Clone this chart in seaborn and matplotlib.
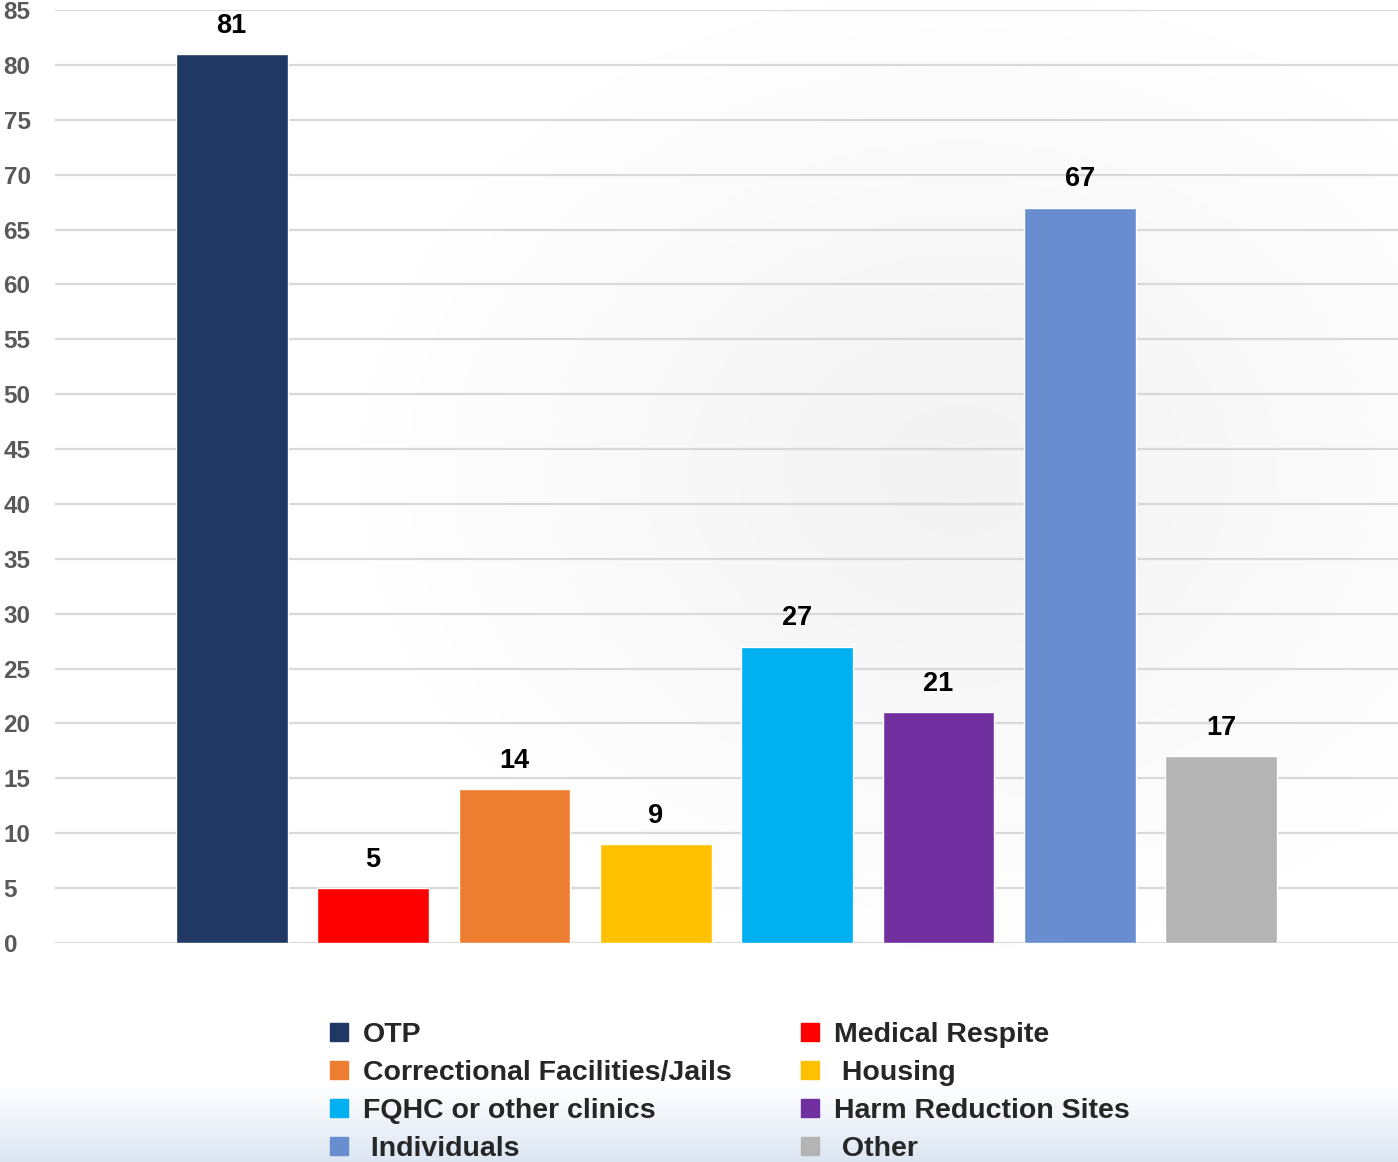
import numpy as np
import pandas as pd
import matplotlib
matplotlib.use("Agg")
import matplotlib.pyplot as plt
import matplotlib.patches as mpatches
import seaborn as sns

categories = ["OTP", "Medical Respite", "Correctional Facilities/Jails", "Housing",
              "FQHC or other clinics", "Harm Reduction Sites", "Individuals", "Other"]
values = [81, 5, 14, 9, 27, 21, 67, 17]
legend_labels = ["OTP", "Medical Respite", "Correctional Facilities/Jails", " Housing",
                 "FQHC or other clinics", "Harm Reduction Sites", " Individuals", " Other"]
colors = ["#203864", "#FF0000", "#ED7D31", "#FFC000", "#00B0F0", "#7030A0", "#698ED0", "#B4B4B4"]
yticks = list(range(0, 90, 5))

sns.set_theme(style="white")
plt.rcParams['font.family'] = ['Liberation Sans', 'DejaVu Sans']
plt.rcParams['font.weight'] = 'bold'

W, H = 1398, 1162
fig = plt.figure(figsize=(W / 100, H / 100), dpi=100)

# background gradients
bg = fig.add_axes([0, 0, 1, 1], zorder=-10)
yy, xx = np.mgrid[0:H, 0:W]
r = np.sqrt(((xx - 960) / 600.0) ** 2 + ((yy - 470) / 480.0) ** 2)
gray = 1 - 0.05 * np.clip(1 - r, 0, 1)
img = np.dstack([gray, gray, gray])
t = np.clip((yy - 1085) / 77.0, 0, 1)
blue = np.array([0.86, 0.90, 0.95])
img = img * (1 - t[..., None]) + blue * t[..., None]
bg.imshow(img, aspect='auto', extent=[0, 1, 0, 1])
bg.axis('off')

ax = fig.add_axes([55 / W, (H - 943) / H, 1 - 55 / W, (943 - 10) / H])
ax.patch.set_alpha(0)

df = pd.DataFrame({"cat": categories, "val": values})
sns.barplot(data=df, x="cat", y="val", hue="cat", palette=colors, order=categories,
            hue_order=categories, dodge=False, width=0.79, legend=False, ax=ax,
            saturation=1, zorder=3)

ax.set_xlim(-1.25, 7 + 1.25)
ax.set_ylim(0, 85)
ax.set_yticks(yticks)
ax.set_yticklabels([str(v) for v in yticks], fontsize=17.5, color="#595959", fontweight='bold')
ax.tick_params(axis='y', length=0, pad=37)
for lab in ax.get_yticklabels():
    lab.set_horizontalalignment('left')
ax.set_xticks([])
ax.set_xlabel("")
ax.set_ylabel("")
ax.grid(axis='y', color="#D9D9D9", linewidth=1.6, zorder=0)
ax.set_axisbelow(True)
for s in ax.spines.values():
    s.set_visible(False)

for i, v in enumerate(values):
    ax.annotate(str(v), (i, v), xytext=(0, 11), textcoords='offset points',
                ha='center', va='bottom', fontsize=19.5, fontweight='bold', color='black')

handles = [mpatches.Patch(color=c, label=l) for c, l in zip(colors, legend_labels)]
order = [0, 2, 4, 6, 1, 3, 5, 7]
fig.legend([handles[i] for i in order], [legend_labels[i] for i in order],
           ncol=2, loc='upper left', bbox_to_anchor=(330 / W, (H - 1022) / H),
           frameon=False, fontsize=20.5, handlelength=0.63, handleheight=0.63,
           handletextpad=0.52, labelspacing=0.42, columnspacing=2.45,
           borderaxespad=0, borderpad=0)

fig.savefig("out.png", dpi=100)
